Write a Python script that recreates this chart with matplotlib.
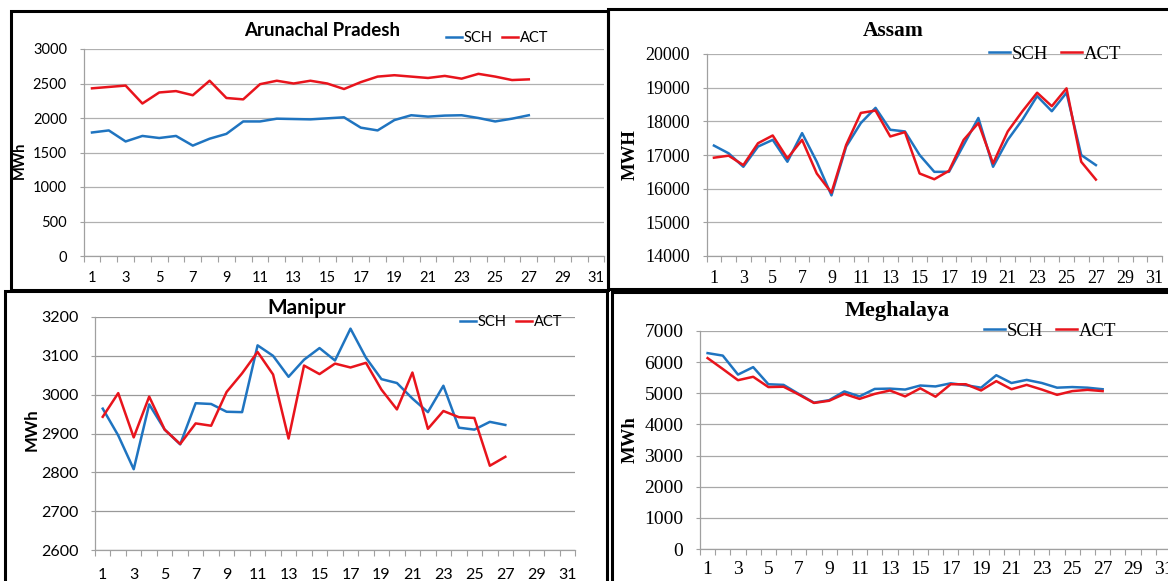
import numpy as np
import matplotlib
matplotlib.use("Agg")
import matplotlib.pyplot as plt
from matplotlib.patches import Rectangle

# Datos (MWh por día)
dias = list(range(1, 28))
etiquetas_x = [str(d) for d in range(1, 32, 2)]

arunachal_sch = [1790, 1820, 1660, 1740, 1710, 1740, 1600, 1700, 1770, 1950,
                 1950, 1990, 1985, 1980, 1995, 2010, 1860, 1820, 1970, 2040,
                 2020, 2035, 2040, 2000, 1950, 1990, 2040]
arunachal_act = [2430, 2450, 2470, 2210, 2370, 2390, 2330, 2540, 2290, 2270,
                 2490, 2540, 2500, 2540, 2500, 2420, 2520, 2600, 2620, 2600,
                 2580, 2610, 2570, 2640, 2600, 2550, 2560]

assam_sch = [17280, 17050, 16650, 17250, 17450, 16800, 17650, 16800, 15800, 17250,
             17950, 18400, 17750, 17700, 17000, 16500, 16500, 17300, 18100, 16650,
             17450, 18050, 18750, 18300, 18850, 17000, 16700]
assam_act = [16920, 16980, 16700, 17350, 17580, 16900, 17450, 16450, 15880, 17300,
             18250, 18320, 17550, 17680, 16450, 16280, 16530, 17450, 17950, 16750,
             17700, 18300, 18850, 18450, 18980, 16800, 16270]

manipur_sch = [2964, 2895, 2808, 2975, 2910, 2872, 2978, 2976, 2956, 2955,
               3127, 3100, 3046, 3090, 3120, 3088, 3170, 3095, 3040, 3030,
               2990, 2955, 3023, 2915, 2910, 2930, 2922]
manipur_act = [2943, 3004, 2890, 2995, 2910, 2873, 2926, 2920, 3007, 3055,
               3110, 3052, 2887, 3075, 3053, 3080, 3070, 3082, 3013, 2962,
               3057, 2912, 2958, 2942, 2940, 2817, 2840]

meghalaya_sch = [6290, 6210, 5600, 5840, 5290, 5270, 4980, 4700, 4780, 5060,
                 4900, 5140, 5150, 5120, 5250, 5220, 5320, 5260, 5180, 5580,
                 5330, 5430, 5330, 5180, 5200, 5180, 5130]
meghalaya_act = [6130, 5780, 5420, 5530, 5200, 5210, 4960, 4690, 4760, 4980,
                 4820, 4980, 5090, 4900, 5160, 4890, 5290, 5290, 5090, 5390,
                 5130, 5270, 5120, 4950, 5070, 5110, 5070]

AZUL = "#1f74c0"
ROJO = "#e8141c"
W, H = 1168, 581

fig = plt.figure(figsize=(W / 100, H / 100), dpi=100)


def fx(px):
    return px / W


def fy(py):
    return 1 - py / H


def crear_panel(caja, ylim, paso, sch, act, titulo, pos_titulo, pos_leyenda,
                ylabel, pos_ylabel, fuente, tamanos, pad_x, pad_y, color_grid):
    # tamanos = (ticks, titulo, leyenda, etiqueta y)
    t_tick, t_tit, t_ley, t_ylab = tamanos
    x0, x1, ytop, ybot = caja
    ax = fig.add_axes([fx(x0), fy(ybot), fx(x1 - x0), (ybot - ytop) / H])
    ax.plot(dias, sch, color=AZUL, lw=1.8, label="SCH")
    ax.plot(dias, act, color=ROJO, lw=1.8, label="ACT")
    ax.set_xlim(0.5, 31.5)
    ax.set_ylim(*ylim)
    ax.set_yticks(np.arange(ylim[0], ylim[1] + paso, paso))
    ax.set_xticks(range(1, 32, 2))
    ax.set_xticklabels(etiquetas_x)
    ax.set_xticks(np.arange(0.5, 32, 1), minor=True)
    ax.tick_params(axis="x", which="major", length=0, pad=pad_x)
    ax.tick_params(axis="x", which="minor", length=4, direction="out",
                   color="#a0a0a0", width=0.8)
    ax.tick_params(axis="y", length=3, color="#a0a0a0", width=0.8, pad=pad_y)
    for lab in ax.get_xticklabels() + ax.get_yticklabels():
        lab.set_fontfamily(fuente)
        lab.set_fontsize(t_tick)
    ax.grid(axis="y", color=color_grid, lw=0.9)
    ax.set_axisbelow(True)
    for s in ("top", "right"):
        ax.spines[s].set_visible(False)
    for s in ("left", "bottom"):
        ax.spines[s].set_color("#a0a0a0")
        ax.spines[s].set_linewidth(0.9)
    ax.patch.set_alpha(0)
    for lin in ax.lines:
        lin.set_clip_on(False)

    fig.text(fx(pos_titulo[0]), fy(pos_titulo[1]), titulo, ha="center",
             va="center", fontsize=t_tit, fontweight="bold", family=fuente)
    fig.text(fx(pos_ylabel[0]), fy(pos_ylabel[1]), ylabel, ha="center",
             va="center", rotation=90, fontsize=t_ylab, fontweight="bold",
             family=fuente)
    ax.legend(loc="center", bbox_to_anchor=(fx(pos_leyenda[0]), fy(pos_leyenda[1])),
              bbox_transform=fig.transFigure, ncol=2, frameon=False,
              handlelength=1.1, handletextpad=0.1, columnspacing=0.7,
              prop={"family": fuente, "size": t_ley})
    return ax


crear_panel((83.6, 604.4, 49, 256), (0, 3000), 500, arunachal_sch, arunachal_act,
            "Arunachal Pradesh", (322, 30), (497, 38), "MWh", (20, 160),
            "Lato", (10.5, 13.5, 10.5, 10.5), 11, 9, "#b0b0b0")
crear_panel((706.6, 1162, 54, 256), (14000, 20000), 1000, assam_sch, assam_act,
            "Assam", (893, 31), (1055, 54), "MWH", (630, 155),
            "Liberation Serif", (13, 15.5, 13.5, 13.5), 10, 9, "#b0b0b0")
crear_panel((95, 575, 317, 550), (2600, 3200), 100, manipur_sch, manipur_act,
            "Manipur", (307, 308), (511, 322), "MWh", (32, 430),
            "Lato", (11.5, 15, 10.5, 12), 13, 9, "#999999")
crear_panel((700, 1171, 331, 549), (0, 7000), 1000, meghalaya_sch, meghalaya_act,
            "Meghalaya", (897, 311), (1050, 331), "MWh", (630, 440),
            "Liberation Serif", (14, 16, 13.5, 13.5), 8.5, 9, "#a8a8a8")

# Marcos negros de cada panel
for (a, b, c, d) in [(11, 11, 608, 290), (608, 9, 1180, 289),
                     (5, 291, 607, 600), (612, 292, 1180, 600)]:
    fig.patches.append(Rectangle((fx(a), fy(d)), fx(c - a), (d - b) / H,
                                 transform=fig.transFigure, fill=False,
                                 edgecolor="black", lw=2.2))

fig.savefig("out.png", dpi=100)
